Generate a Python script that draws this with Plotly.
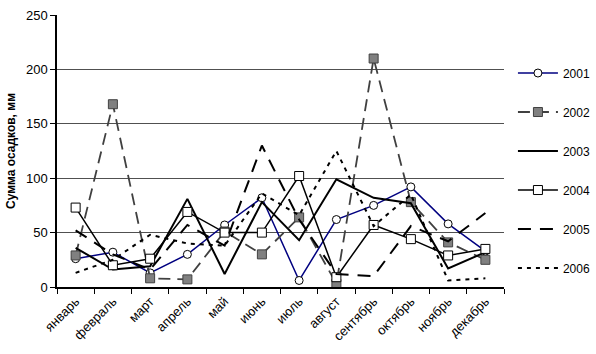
import plotly.graph_objects as go

months = ["январь", "февраль", "март", "апрель", "май", "июнь", "июль",
          "август", "сентябрь", "октябрь", "ноябрь", "декабрь"]
y2001 = [26, 32, 13, 30, 57, 82, 6, 62, 75, 92, 58, 33]
y2002 = [29, 168, 8, 7, 51, 30, 64, 3, 210, 78, 41, 25]
y2003 = [36, 16, 19, 81, 12, 78, 43, 99, 82, 77, 17, 32]
y2004 = [73, 20, 26, 69, 50, 50, 102, 9, 57, 44, 29, 35]
y2005 = [52, 30, 16, 57, 38, 130, 62, 12, 10, 56, 42, 68]
y2006 = [13, 25, 48, 40, 38, 86, 66, 125, 56, 85, 6, 8]
yticks = [0, 50, 100, 150, 200, 250]

fig = go.Figure()
common = dict(x=months, mode="lines+markers")
fig.add_trace(go.Scatter(y=y2001, name="2001", legendgroup="a", **common,
                         line=dict(color="#000080", width=1.5),
                         marker=dict(symbol="circle", size=8, color="white",
                                     line=dict(color="#000000", width=1))))
fig.add_trace(go.Scatter(y=y2002, name="2002", legendgroup="b", **common,
                         line=dict(color="#404040", width=1.8, dash="12px,7px"),
                         marker=dict(symbol="square", size=9, color="#808080",
                                     line=dict(color="#404040", width=1))))
fig.add_trace(go.Scatter(y=y2003, name="2003", legendgroup="c", x=months, mode="lines",
                         line=dict(color="#000000", width=2)))
fig.add_trace(go.Scatter(y=y2004, name="2004", legendgroup="d", **common,
                         line=dict(color="#000000", width=1.5),
                         marker=dict(symbol="square", size=9, color="white",
                                     line=dict(color="#000000", width=1))))
fig.add_trace(go.Scatter(y=y2005, name="2005", legendgroup="e", x=months, mode="lines",
                         line=dict(color="#000000", width=2, dash="13px,9px")))
fig.add_trace(go.Scatter(y=y2006, name="2006", legendgroup="f", x=months, mode="lines",
                         line=dict(color="#000000", width=2, dash="4px,5px")))

fig.update_layout(
    width=596, height=354,
    margin=dict(l=57, r=92, t=15, b=67, autoexpand=False),
    paper_bgcolor="white", plot_bgcolor="white",
    font=dict(family="Liberation Sans, Arial", size=12, color="black"),
    showlegend=True,
    legend=dict(x=1.02, y=0.84, xanchor="left", yanchor="top",
                traceorder="grouped", tracegroupgap=20,
                font=dict(size=12), bgcolor="rgba(0,0,0,0)",
                itemwidth=40),
    xaxis=dict(type="category", range=[-0.5, 11.5], showline=True,
               linecolor="black", linewidth=1.5, ticks="outside", ticklen=5,
               tickcolor="black", tickson="boundaries", tickangle=-45,
               showgrid=False, tickfont=dict(size=13), automargin=False),
    yaxis=dict(range=[0, 250], tickvals=yticks, showline=True,
               linecolor="black", linewidth=1.5, ticks="outside", ticklen=5,
               tickcolor="black", gridcolor="#505050", gridwidth=1,
               zeroline=False, tickfont=dict(size=13), automargin=False,
               title=dict(text="<b>Сумма осадков, мм</b>", font=dict(size=12),
                          standoff=8)),
)
fig.write_html("out.html")
